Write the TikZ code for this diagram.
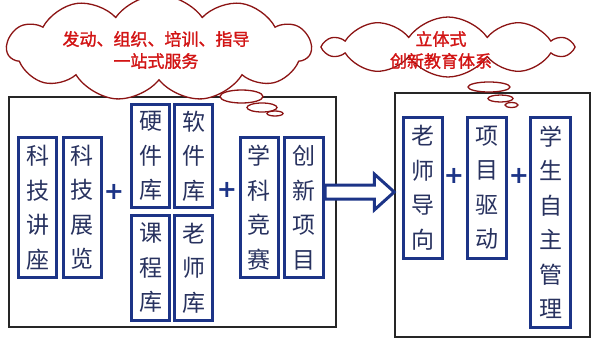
\documentclass[tikz,border=0pt]{standalone}
\usepackage{fontspec}
\newfontfamily\cjk{Noto Sans CJK SC}
\newfontfamily\cjkb[FakeBold=1.5]{Noto Sans CJK SC}
\newfontfamily\plusfont{DejaVu Sans}
\usetikzlibrary{shapes.symbols,shapes.geometric,calc}
\definecolor{boxblue}{RGB}{28,52,135}
\definecolor{txtblue}{RGB}{40,50,95}
\definecolor{cloudred}{RGB}{140,20,20}
\definecolor{redtxt}{RGB}{210,20,20}
\tikzset{
  outerbox/.style={draw=black!85, line width=1.5pt, fill=white},
  vbox/.style={draw=boxblue, line width=3pt, fill=white, inner sep=0pt,
    text=txtblue, align=center, font=\cjk\fontsize{23}{34.5}\selectfont},
  plussign/.style={text=boxblue, inner sep=0pt, font=\plusfont\bfseries\fontsize{24}{24}\selectfont},
  cloudshape/.style={cloud, cloud ignores aspect, cloud puff arc=110, draw=cloudred, line width=1.3pt, fill=white, inner sep=0pt},
  bubble/.style={ellipse, draw=cloudred, line width=1.3pt, fill=white, inner sep=0pt},
  cloudtxt/.style={text=redtxt, align=center, font=\cjkb\fontsize{17}{22}\selectfont, inner sep=0pt},
  blockarrow/.style={draw=boxblue, line width=3pt, fill=white, line join=miter},
}
\begin{document}
\begin{tikzpicture}[x=1pt,y=-1pt]
\useasboundingbox (0,0) rectangle (600,343);
% outer boxes
\node[outerbox, minimum width=327pt, minimum height=230pt] (L) at (172.5,212) {};
\node[outerbox, minimum width=195pt, minimum height=244pt] (R) at (492.5,215) {};
% left group
\node[vbox, minimum width=38pt, minimum height=140pt] (ka) at (37.5,207.5) {科\\技\\讲\\座};
\node[vbox, minimum width=38pt, minimum height=140pt] (kb) at (82,207.5) {科\\技\\展\\览};
\node[plussign] (p1) at (114,192) {+};
\node[vbox, minimum width=38pt, minimum height=103pt] (yj) at (150.5,156) {硬\\件\\库};
\node[vbox, minimum width=38pt, minimum height=103pt] (rj) at (193.5,156) {软\\件\\库};
\node[vbox, minimum width=38pt, minimum height=105pt] (kc) at (150.5,268) {课\\程\\库};
\node[vbox, minimum width=38pt, minimum height=105pt] (ls) at (193.5,268) {老\\师\\库};
\node[plussign] (p2) at (227,190) {+};
\node[vbox, minimum width=38pt, minimum height=140pt] (xk) at (259,207.5) {学\\科\\竞\\赛};
\node[vbox, minimum width=39pt, minimum height=140pt] (cx) at (304,207.5) {创\\新\\项\\目};
% right group
\node[vbox, minimum width=39pt, minimum height=141pt] (ld) at (423,188) {老\\师\\导\\向};
\node[plussign] (p3) at (454,176) {+};
\node[vbox, minimum width=39pt, minimum height=141pt] (xm) at (487,188) {项\\目\\驱\\动};
\node[plussign] (p4) at (519,176) {+};
\node[vbox, minimum width=40pt, minimum height=210pt] (xs) at (550.5,222.5) {学\\生\\自\\主\\管\\理};
% block arrow
\coordinate (at) at (cx.east |- 0,192);
\coordinate (ah) at (R.west |- 0,192);
\draw[blockarrow] ($(at)+(0,-7)$) -- ($(ah)+(-20,-7)$) -- ($(ah)+(-20,-18)$) -- (ah)
  -- ($(ah)+(-20,18)$) -- ($(ah)+(-20,7)$) -- ($(at)+(0,7)$) -- cycle;
% left cloud
\node[cloudshape, cloud puffs=11, minimum width=304pt, minimum height=106pt] (c1) at (159,48) {};
\node[cloudtxt] (c1t) at (156,50) {发动、组织、培训、指导\\一站式服务};
\node[bubble, minimum width=43pt, minimum height=13pt] (b1) at (241.5,96.5) {};
\node[bubble, minimum width=30pt, minimum height=9pt] (b2) at (262,107.5) {};
\node[bubble, minimum width=16pt, minimum height=5pt] (b3) at (275,113.5) {};
% right cloud
\node[cloudshape, cloud puffs=10, minimum width=245pt, minimum height=60pt] (c2) at (448,47) {};
\node[cloudtxt] (c2t) at (441,50) {立体式\\创新教育体系};
\node[bubble, minimum width=42pt, minimum height=10pt] (b4) at (489,87) {};
\node[bubble, minimum width=25pt, minimum height=7pt] (b5) at (500.5,98.5) {};
\node[bubble, minimum width=13pt, minimum height=5pt] (b6) at (511.5,105) {};
\end{tikzpicture}
\end{document}
